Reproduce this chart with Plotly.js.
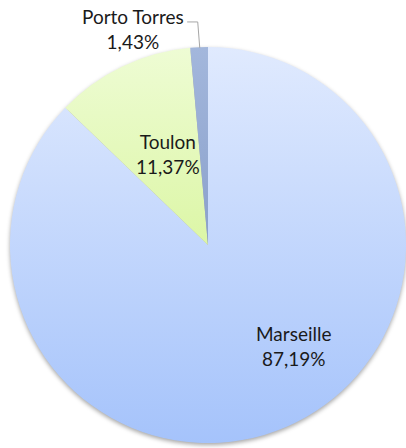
<!DOCTYPE html>
<html>
<head>
<meta charset="utf-8">
<script src="https://cdn.plot.ly/plotly-3.0.1.min.js"></script>
<style>
html,body{margin:0;padding:0;background:#fff;}
#chart{width:406px;height:448px;}
</style>
</head>
<body>
<div id="chart"></div>
<script>
const ports = ["Marseille", "Toulon", "Porto Torres"];
const shares = [87.19, 11.37, 1.43];
const sliceColors = ["#c3d6fc", "#e6fabd", "#93a9d3"];
const gradTop = ["#e0eafe", "#eefcd4", "#a3b7dc"];
const gradBottom = ["#a5c3fb", "#dcf6a6", "#8aa0cb"];
const labelPos = [[0.7217, 0.228], [0.414, 0.656], [0.328, 0.935]];

const fmt = v => v.toFixed(2).replace(".", ",") + "%";
const FONT = {family: "Lato, 'Open Sans', sans-serif", size: 19, color: "#1a1a1a"};

const trace = {
  type: "pie",
  labels: ports,
  values: shares,
  sort: false,
  direction: "clockwise",
  rotation: 0,
  textinfo: "none",
  marker: {colors: sliceColors, line: {width: 0}},
  domain: {x: [0.0246, 1], y: [0.011, 0.895]},
  hoverinfo: "none",
  showlegend: false
};

const layout = {
  width: 406, height: 448,
  margin: {l: 0, r: 0, t: 0, b: 0},
  paper_bgcolor: "#ffffff",
  showlegend: false,
  annotations: ports.map((p, i) => ({
    xref: "paper", yref: "paper",
    x: labelPos[i][0], y: labelPos[i][1],
    xanchor: "center", yanchor: "middle",
    text: p + "<br>" + fmt(shares[i]),
    showarrow: false,
    font: FONT
  })),
  shapes: [{
    type: "path", xref: "paper", yref: "paper",
    path: "M 0.461 0.951 L 0.487 0.951 L 0.492 0.893",
    line: {color: "#a6a6a6", width: 1}
  }]
};

Plotly.newPlot("chart", [trace], layout, {staticPlot: true}).then(() => {
  const svg = document.querySelector("#chart .main-svg");
  const ns = "http://www.w3.org/2000/svg";
  let defs = svg.querySelector("defs");
  if (!defs) { defs = document.createElementNS(ns, "defs"); svg.insertBefore(defs, svg.firstChild); }
  ports.forEach((p, i) => {
    const g = document.createElementNS(ns, "linearGradient");
    g.setAttribute("id", "grad" + i);
    g.setAttribute("x1", "0"); g.setAttribute("y1", "0");
    g.setAttribute("x2", "0"); g.setAttribute("y2", "1");
    const s1 = document.createElementNS(ns, "stop");
    s1.setAttribute("offset", "0"); s1.setAttribute("stop-color", gradTop[i]);
    const s2 = document.createElementNS(ns, "stop");
    s2.setAttribute("offset", "1"); s2.setAttribute("stop-color", gradBottom[i]);
    g.appendChild(s1); g.appendChild(s2);
    defs.appendChild(g);
  });
  const paths = svg.querySelectorAll(".slice path.surface");
  paths.forEach((path, i) => { path.style.fill = "url(#grad" + i + ")"; });
  const trg = svg.querySelector(".trace");
  if (trg) trg.style.filter = "drop-shadow(0px 2px 2px rgba(0,0,0,0.35))";
});
</script>
</body>
</html>
